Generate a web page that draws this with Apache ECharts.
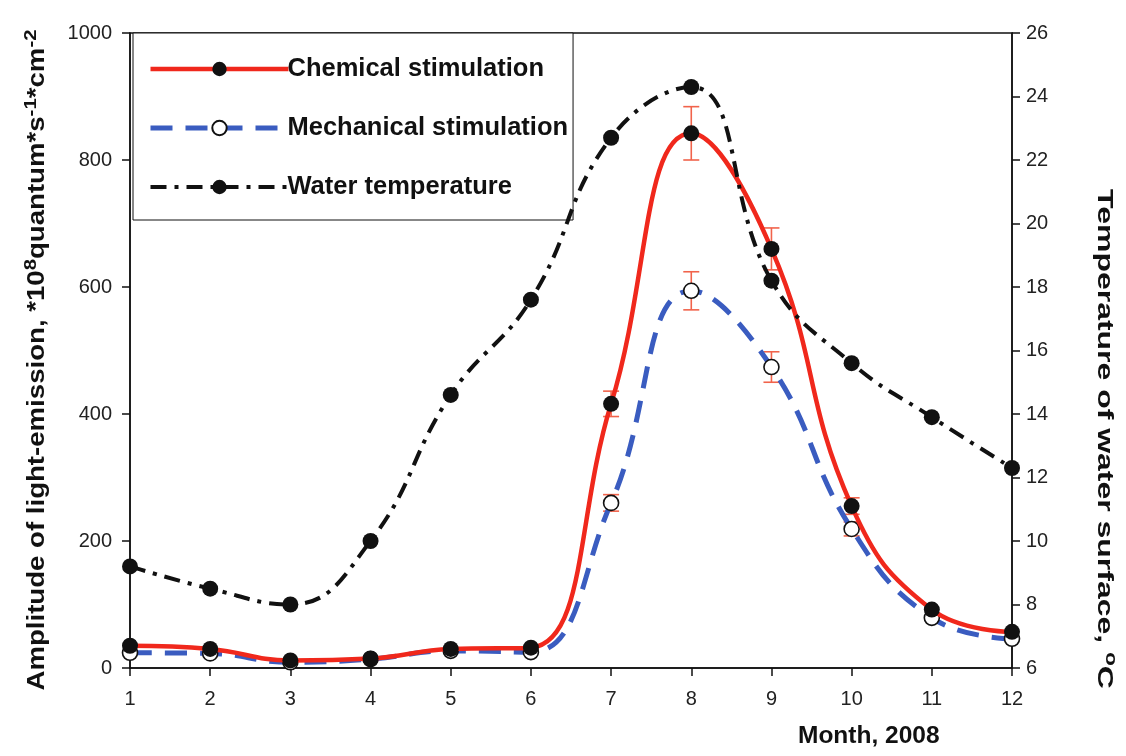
<!DOCTYPE html>
<html>
<head>
<meta charset="utf-8">
<script src="https://cdn.jsdelivr.net/npm/echarts@6/dist/echarts.min.js"></script>
<style>
html,body{margin:0;padding:0;background:#fff;}
#chart{width:1126px;height:756px;}
</style>
</head>
<body>
<div id="chart"></div>
<script>
const months = [1,2,3,4,5,6,7,8,9,10,11,12];
const chemical = [35, 30, 12, 15, 30, 32, 416, 842, 660, 255, 92, 57];
const chemicalErr = [0, 0, 0, 0, 0, 0, 20, 42, 33, 13, 0, 0];
const mechanical = [24, 23, 9, 14, 27, 25, 260, 594, 474, 219, 79, 46];
const mechanicalErr = [0, 0, 0, 0, 0, 0, 13, 30, 24, 11, 0, 0];
const waterTemp = [9.2, 8.5, 8.0, 10.0, 14.6, 17.6, 22.7, 24.3, 18.2, 15.6, 13.9, 12.3];
const leftTicks = [0, 200, 400, 600, 800, 1000];
const rightTicks = [6, 8, 10, 12, 14, 16, 18, 20, 22, 24, 26];

const FONT = "'Liberation Sans', Arial, sans-serif";
const pair = (xs, ys) => xs.map((x, i) => [x, ys[i]]);
const errData = (xs, ys, es) => xs.map((x, i) => [x, ys[i] - es[i], ys[i] + es[i]]).filter((d, i) => es[i] > 0);

function errRender(params, api) {
  const x = api.value(0);
  const lo = api.coord([x, api.value(1)]);
  const hi = api.coord([x, api.value(2)]);
  const hw = 8;
  const style = { stroke: '#f1634b', lineWidth: 1.6, fill: null };
  return {
    type: 'group',
    children: [
      { type: 'line', shape: { x1: lo[0], y1: lo[1], x2: hi[0], y2: hi[1] }, style: style },
      { type: 'line', shape: { x1: lo[0] - hw, y1: lo[1], x2: lo[0] + hw, y2: lo[1] }, style: style },
      { type: 'line', shape: { x1: hi[0] - hw, y1: hi[1], x2: hi[0] + hw, y2: hi[1] }, style: style }
    ]
  };
}

const chart = echarts.init(document.getElementById('chart'));
chart.setOption({
  backgroundColor: '#fff',
  animation: false,
  textStyle: { fontFamily: FONT },
  grid: { left: 130, right: 114, top: 33, bottom: 88, show: true, borderColor: '#111', borderWidth: 1.5, backgroundColor: 'transparent' },
  legend: {
    orient: 'vertical',
    left: 133,
    top: 33,
    padding: [23, 5, 20, 15],
    itemGap: 33,
    itemWidth: 138,
    itemHeight: 18,
    backgroundColor: '#fff',
    borderColor: '#111',
    borderWidth: 1,
    textStyle: { fontFamily: FONT, fontSize: 25.5, fontWeight: 'bold', color: '#111', padding: [0, 0, 0, -6] },
    data: [
      { name: 'Chemical stimulation', lineStyle: { width: 4.5 } },
      { name: 'Mechanical stimulation', lineStyle: { width: 5 } },
      { name: 'Water temperature', lineStyle: { width: 4 } }
    ]
  },
  xAxis: {
    type: 'value',
    min: 1,
    max: 12,
    interval: 1,
    axisLine: { lineStyle: { color: '#111', width: 1.5 } },
    axisTick: { inside: false, length: 8, lineStyle: { color: '#111', width: 1.5 } },
    axisLabel: { fontFamily: FONT, fontSize: 20, color: '#222', margin: 21 },
    splitLine: { show: false }
  },
  yAxis: [
    {
      type: 'value',
      min: 0,
      max: 1000,
      interval: 200,
      position: 'left',
      axisLine: { show: true, lineStyle: { color: '#111', width: 1.5 } },
      axisTick: { show: true, inside: false, length: 8, lineStyle: { color: '#111', width: 1.5 } },
      axisLabel: { fontFamily: FONT, fontSize: 20, color: '#222', margin: 18, formatter: v => String(v) },
      splitLine: { show: false }
    },
    {
      type: 'value',
      min: 6,
      max: 26,
      interval: 2,
      position: 'right',
      axisLine: { show: true, lineStyle: { color: '#111', width: 1.5 } },
      axisTick: { show: true, inside: false, length: 8, lineStyle: { color: '#111', width: 1.5 } },
      axisLabel: { fontFamily: FONT, fontSize: 20, color: '#222', margin: 14 },
      splitLine: { show: false }
    }
  ],
  graphic: [
    {
      type: 'text',
      left: 798,
      top: 724,
      style: { text: 'Month, 2008', font: "bold 24.5px 'Liberation Sans', Arial, sans-serif", fill: '#111' }
    },
    {
      type: 'text',
      x: 38,
      y: 360,
      rotation: Math.PI / 2,
      scaleX: 1.2,
      style: {
        text: 'Amplitude of light-emission, *10{sup|8}quantum*s{sup|-1}*cm{sup|-2}',
        font: "bold 23px 'Liberation Sans', Arial, sans-serif",
        fill: '#111',
        align: 'center',
        verticalAlign: 'middle',
        rich: { sup: { font: "bold 17px 'Liberation Sans', Arial, sans-serif", fill: '#111', verticalAlign: 'top', padding: [0, 0, 13, 0] } }
      }
    },
    {
      type: 'text',
      x: 1104,
      y: 439,
      rotation: -Math.PI / 2,
      scaleX: 1.42,
      style: {
        text: 'Temperature of water surface, {sup|o}C',
        font: "bold 22.5px 'Liberation Sans', Arial, sans-serif",
        fill: '#111',
        align: 'center',
        verticalAlign: 'middle',
        rich: { sup: { font: "bold 16px 'Liberation Sans', Arial, sans-serif", fill: '#111', verticalAlign: 'top', padding: [0, 0, 12, 0] } }
      }
    }
  ],
  series: [
    {
      name: 'Chemical stimulation error',
      type: 'custom',
      renderItem: errRender,
      data: errData(months, chemical, chemicalErr),
      encode: { x: 0, y: [1, 2] },
      z: 1,
      silent: true
    },
    {
      name: 'Mechanical stimulation error',
      type: 'custom',
      renderItem: errRender,
      data: errData(months, mechanical, mechanicalErr),
      encode: { x: 0, y: [1, 2] },
      z: 1,
      silent: true
    },
    {
      name: 'Mechanical stimulation',
      type: 'line',
      data: pair(months, mechanical),
      smooth: 0.45,
      symbol: 'circle',
      symbolSize: 15,
      itemStyle: { color: '#fff', borderColor: '#111', borderWidth: 1.6 },
      lineStyle: { color: '#3a5cc0', width: 5, type: [22, 13] },
      z: 3
    },
    {
      name: 'Chemical stimulation',
      type: 'line',
      data: pair(months, chemical),
      smooth: 0.45,
      symbol: 'circle',
      symbolSize: 16,
      itemStyle: { color: '#111', borderColor: '#111', borderWidth: 0 },
      lineStyle: { color: '#f0281c', width: 4.5 },
      z: 4
    },
    {
      name: 'Water temperature',
      type: 'line',
      yAxisIndex: 1,
      data: pair(months, waterTemp),
      smooth: 0.45,
      symbol: 'circle',
      symbolSize: 16,
      itemStyle: { color: '#111', borderColor: '#111', borderWidth: 0 },
      lineStyle: { color: '#111', width: 4, type: [16, 8, 4, 8] },
      z: 5
    }
  ]
});
</script>
</body>
</html>
